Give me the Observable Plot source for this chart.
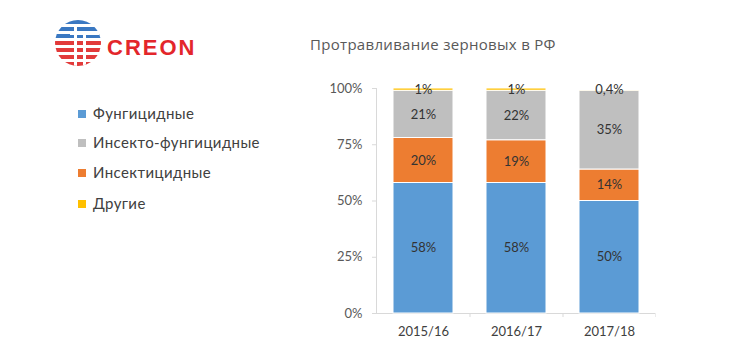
<!DOCTYPE html>
<html><head><meta charset="utf-8">
<script src="https://cdn.jsdelivr.net/npm/d3@7"></script>
<script src="https://cdn.jsdelivr.net/npm/@observablehq/plot@0.6"></script>
<style>
html,body{margin:0;padding:0;background:#fff;}
#root{position:relative;width:730px;height:360px;overflow:hidden;font-family:Lato,"Open Sans",sans-serif;}
#title{position:absolute;left:310px;top:34px;font-family:"Open Sans",sans-serif;font-size:15px;letter-spacing:0.3px;color:#595959;white-space:nowrap;}
#legend{position:absolute;left:78px;top:0;}
.lg{position:absolute;left:0;white-space:nowrap;font-size:15px;letter-spacing:0.4px;color:#404040;line-height:18px;}
.sw{display:inline-block;width:8px;height:8px;margin-right:7px;vertical-align:1px;}
#chart{position:absolute;left:316px;top:70px;}
#logo{position:absolute;left:50px;top:18px;}
</style></head>
<body><div id="root">
<svg id="logo" width="160" height="52" viewBox="0 0 160 52">
  <defs><clipPath id="cc"><circle cx="28" cy="25" r="23"/></clipPath></defs>
  <g clip-path="url(#cc)">
    <rect x="0" y="2" width="60" height="4" fill="#3a78c2"/>
    <rect x="0" y="9" width="60" height="4" fill="#3a78c2"/>
    <rect x="0" y="16" width="60" height="4" fill="#3a78c2"/>
    <rect x="0" y="23" width="60" height="4" fill="#e23a3a"/>
    <rect x="0" y="30" width="60" height="4" fill="#e23a3a"/>
    <rect x="0" y="37" width="60" height="4" fill="#e23a3a"/>
    <rect x="0" y="44" width="60" height="4" fill="#e23a3a"/>
    <rect x="24" y="8" width="3" height="46" fill="#fff"/>
    <rect x="33" y="16" width="3" height="40" fill="#fff"/>
    <rect x="20" y="14" width="30" height="3" fill="#fff"/>
  </g>
  <text x="57" y="37" font-family="'Liberation Sans',Arial,sans-serif" font-weight="bold" font-size="22" letter-spacing="2" fill="#e3262b">CREON</text>
</svg>
<div id="title">Протравливание зерновых в РФ</div>
<div id="legend"></div>
<div id="chart"></div>
</div>
<script>
const seasons = ["2015/16", "2016/17", "2017/18"];
const types = ["Фунгицидные", "Инсектицидные", "Инсекто-фунгицидные", "Другие"];
const colors = ["#5b9bd5", "#ed7d31", "#bfbfbf", "#ffc000"];
const fungicide = [58, 58, 50];
const insecticide = [20, 19, 14];
const insectoFungicide = [21, 22, 35];
const other = [1, 1, 0.4];
const yTicks = [0, 25, 50, 75, 100];
const legendOrder = ["Фунгицидные", "Инсекто-фунгицидные", "Инсектицидные", "Другие"];

const series = [fungicide, insecticide, insectoFungicide, other];
const data = [];
types.forEach((t, i) => seasons.forEach((s, j) => data.push({season: s, type: t, value: series[i][j]})));
const fmt = v => v.toLocaleString("ru-RU") + "%";

// legend
const legend = document.getElementById("legend");
const legendY = [104, 133, 163, 194];
legendOrder.forEach((t, i) => {
  const d = document.createElement("div");
  d.className = "lg";
  d.style.top = legendY[i] + "px";
  d.innerHTML = `<span class="sw" style="background:${colors[types.indexOf(t)]}"></span>${t}`;
  legend.appendChild(d);
});

const W = 340, H = 280;
const chart = Plot.plot({
  width: W, height: H,
  marginLeft: 60, marginRight: 1, marginTop: 18, marginBottom: 37,
  style: {fontFamily: "Lato, 'Open Sans', sans-serif", fontSize: "13px", color: "#595959", background: "transparent"},
  x: {domain: seasons, paddingInner: 0.355, paddingOuter: 0.1775, align: 0.5, label: null},
  y: {domain: [0, 100], ticks: yTicks, tickFormat: d => d + "%", label: null},
  color: {domain: types, range: colors},
  marks: [
    Plot.frame({anchor: "left", stroke: "#d9d9d9"}),
    Plot.ruleY([0], {stroke: "#d9d9d9"}),
    Plot.ruleX(seasons, {x: d => d, dx: 46.5, y1: 0, y2: -1.8, stroke: "#d9d9d9"}),
    Plot.barY(data, Plot.stackY({x: "season", y: "value", fill: "type", z: "type", order: types, stroke: "white", strokeWidth: 1})),
    Plot.text(data, Plot.stackY({x: "season", y: "value", z: "type", order: types, text: d => fmt(d.value), fill: "#333333", fontSize: 13})),
    Plot.axisY({ticks: yTicks, tickFormat: d => d + "%", tickSize: 4, tickPadding: 10, stroke: "#d9d9d9", fill: "#595959", fontSize: 13}),
    Plot.axisX({tickSize: 0, tickPadding: 13, fill: "#404040", fontSize: 13})
  ]
});
document.getElementById("chart").appendChild(chart);
</script>
</body></html>
